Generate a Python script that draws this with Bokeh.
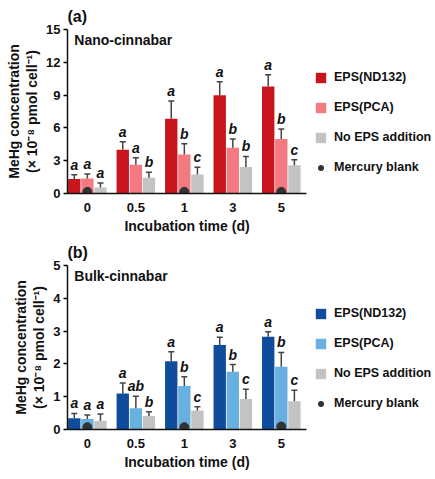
import numpy as np
from bokeh.plotting import figure
from bokeh.layouts import column
from bokeh.models import Range1d, FixedTicker, Legend, LegendItem, Label, LinearAxis
from bokeh.core.properties import value
from bokeh.embed import file_html
from bokeh.resources import INLINE

nan = float("nan")
times = ["0", "0.5", "1", "3", "5"]
series = ["EPS(ND132)", "EPS(PCA)", "No EPS addition"]
blank_label = "Mercury blank"
ylab1 = "MeHg concentration"
ylab2 = "(\u00d7 10\u207b\u2078 pmol cell\u207b\u00b9)"
xlab = "Incubation time (d)"

# Panel (a) Nano-cinnabar
nano_nd132 = [1.33, 4.0, 6.84, 8.99, 9.78]
nano_nd132_err = [0.38, 0.74, 1.62, 1.24, 1.07]
nano_pca = [1.38, 2.62, 3.57, 4.18, 4.98]
nano_pca_err = [0.40, 0.65, 0.97, 0.80, 0.91]
nano_none = [0.56, 1.44, 1.74, 2.42, 2.59]
nano_none_err = [0.41, 0.51, 0.65, 0.97, 0.50]
nano_blank = [0.15, nan, 0.15, nan, 0.15]
nano_let_nd132 = ["a", "a", "a", "a", "a"]
nano_let_pca = ["a", "a", "b", "b", "b"]
nano_let_none = ["a", "b", "c", "b", "c"]
nano_yticks = [0, 3, 6, 9, 12, 15]

# Panel (b) Bulk-cinnabar
bulk_nd132 = [0.34, 1.10, 2.08, 2.58, 2.83]
bulk_nd132_err = [0.15, 0.32, 0.29, 0.23, 0.15]
bulk_pca = [0.32, 0.65, 1.33, 1.76, 1.91]
bulk_pca_err = [0.12, 0.36, 0.28, 0.22, 0.44]
bulk_none = [0.27, 0.41, 0.58, 0.93, 0.86]
bulk_none_err = [0.20, 0.13, 0.11, 0.30, 0.34]
bulk_blank = [0.07, nan, 0.07, nan, 0.09]
bulk_let_nd132 = ["a", "a", "a", "a", "a"]
bulk_let_pca = ["a", "ab", "b", "b", "b"]
bulk_let_none = ["a", "b", "c", "c", "c"]
bulk_yticks = [0, 1, 2, 3, 4, 5]

red_colors = ["#c8151d", "#f27a80", "#c3c3c3"]
blue_colors = ["#0f4d9c", "#68b0e0", "#c3c3c3"]

FONT = "Liberation Sans"
XMIN, XMAX = -0.41, 4.52
FW, FH = 239, 164


def style_axis(ax):
    ax.axis_line_color = "#111111"
    ax.axis_line_width = 1.5
    ax.major_tick_line_width = 1.5
    ax.minor_tick_line_color = None
    ax.major_label_text_font = FONT
    ax.major_label_text_font_style = "bold"
    ax.major_label_text_font_size = "13px"
    ax.major_label_text_color = "#111111"
    ax.axis_label_text_font = FONT
    ax.axis_label_text_font_style = "bold"
    ax.axis_label_text_font_size = "14px"
    ax.axis_label_text_color = "#111111"
    ax.major_label_standoff = 3
    ax.axis_label_standoff = 3


def panel(tag, name, ymax, yticks, vals, errs, letters, blank, colors, ftop, fbottom):
    p = figure(frame_width=FW, frame_height=FH,
               x_range=Range1d(XMIN, XMAX), y_range=Range1d(0, ymax),
               output_backend="svg", toolbar_location=None,
               min_border_left=67, min_border_right=0,
               min_border_top=ftop, min_border_bottom=fbottom)
    offsets = [-0.27, 0.0, 0.27]
    x = np.arange(len(times))
    rends = []
    for k in range(3):
        xs = x + offsets[k]
        v = np.array(vals[k])
        up = v + np.array(errs[k])
        r = p.vbar(x=xs, top=v, width=0.255, fill_color=colors[k], line_color=None)
        rends.append(r)
        p.segment(x0=xs, y0=v, x1=xs, y1=up, line_color="#444444", line_width=1.5)
        p.scatter(x=xs, y=up, marker="dash", size=6, line_color="#444444", line_width=1.5)
        p.text(x=xs, y=up, text=letters[k], text_align="center", text_baseline="bottom",
               y_offset=-2, text_font=value(FONT), text_font_style="bold italic",
               text_font_size="14px", text_color="#111111")
    bl = [b if b == b else -1 for b in blank]
    rb = p.scatter(x=x, y=bl, size=9, fill_color="#333333", line_color="#333333")

    p.add_layout(Label(x=-0.27, y=ymax * 0.985, text=name, text_baseline="top",
                       text_font=FONT, text_font_style="bold", text_font_size="14px",
                       text_color="#111111"))

    items = [LegendItem(label=s, renderers=[r]) for s, r in zip(series, rends)]
    items.append(LegendItem(label=blank_label, renderers=[rb]))
    lg = Legend(items=items, location="top_left", glyph_width=13, glyph_height=13,
                spacing=16, padding=0, margin=8, label_standoff=7,
                label_text_font=FONT, label_text_font_style="bold",
                label_text_font_size="12.5px", label_text_color="#111111",
                border_line_color=None, background_fill_alpha=0)
    lg.title = " "
    lg.title_text_font_size = "20px"
    lg.title_standoff = 10
    p.add_layout(lg, "right")

    p.title.text = tag
    p.title.text_font = FONT
    p.title.text_font_style = "bold"
    p.title.text_font_size = "16px"
    p.title.text_color = "#111111"
    p.title.align = "left"

    p.xaxis.ticker = FixedTicker(ticks=list(range(len(times))))
    p.xaxis.major_label_overrides = {i: t for i, t in enumerate(times)}
    p.xaxis.major_tick_line_color = None
    p.xaxis.axis_label = xlab
    p.yaxis.ticker = FixedTicker(ticks=yticks)
    p.yaxis.major_tick_out = 4
    p.yaxis.major_tick_in = 0
    p.yaxis.axis_label = ylab2
    style_axis(p.xaxis[0])
    style_axis(p.yaxis[0])
    ax2 = LinearAxis(axis_label=ylab1, ticker=FixedTicker(ticks=[]),
                     axis_line_color=None, major_tick_line_color=None)
    style_axis(ax2)
    ax2.axis_line_color = None
    ax2.major_label_text_font_size = "1px"
    ax2.major_label_standoff = 0
    ax2.axis_label_standoff = 0
    p.add_layout(ax2, "left")
    p.grid.visible = False
    p.outline_line_color = None
    return p


pa = panel("(a)", "Nano-cinnabar", 15, nano_yticks,
           [nano_nd132, nano_pca, nano_none],
           [nano_nd132_err, nano_pca_err, nano_none_err],
           [nano_let_nd132, nano_let_pca, nano_let_none],
           nano_blank, red_colors, 27, 40)
pb = panel("(b)", "Bulk-cinnabar", 5, bulk_yticks,
           [bulk_nd132, bulk_pca, bulk_none],
           [bulk_nd132_err, bulk_pca_err, bulk_none_err],
           [bulk_let_nd132, bulk_let_pca, bulk_let_none],
           bulk_blank, blue_colors, 27, 42)

layout = column(pa, pb, spacing=0)
open("out.html", "w").write(file_html(layout, INLINE))
